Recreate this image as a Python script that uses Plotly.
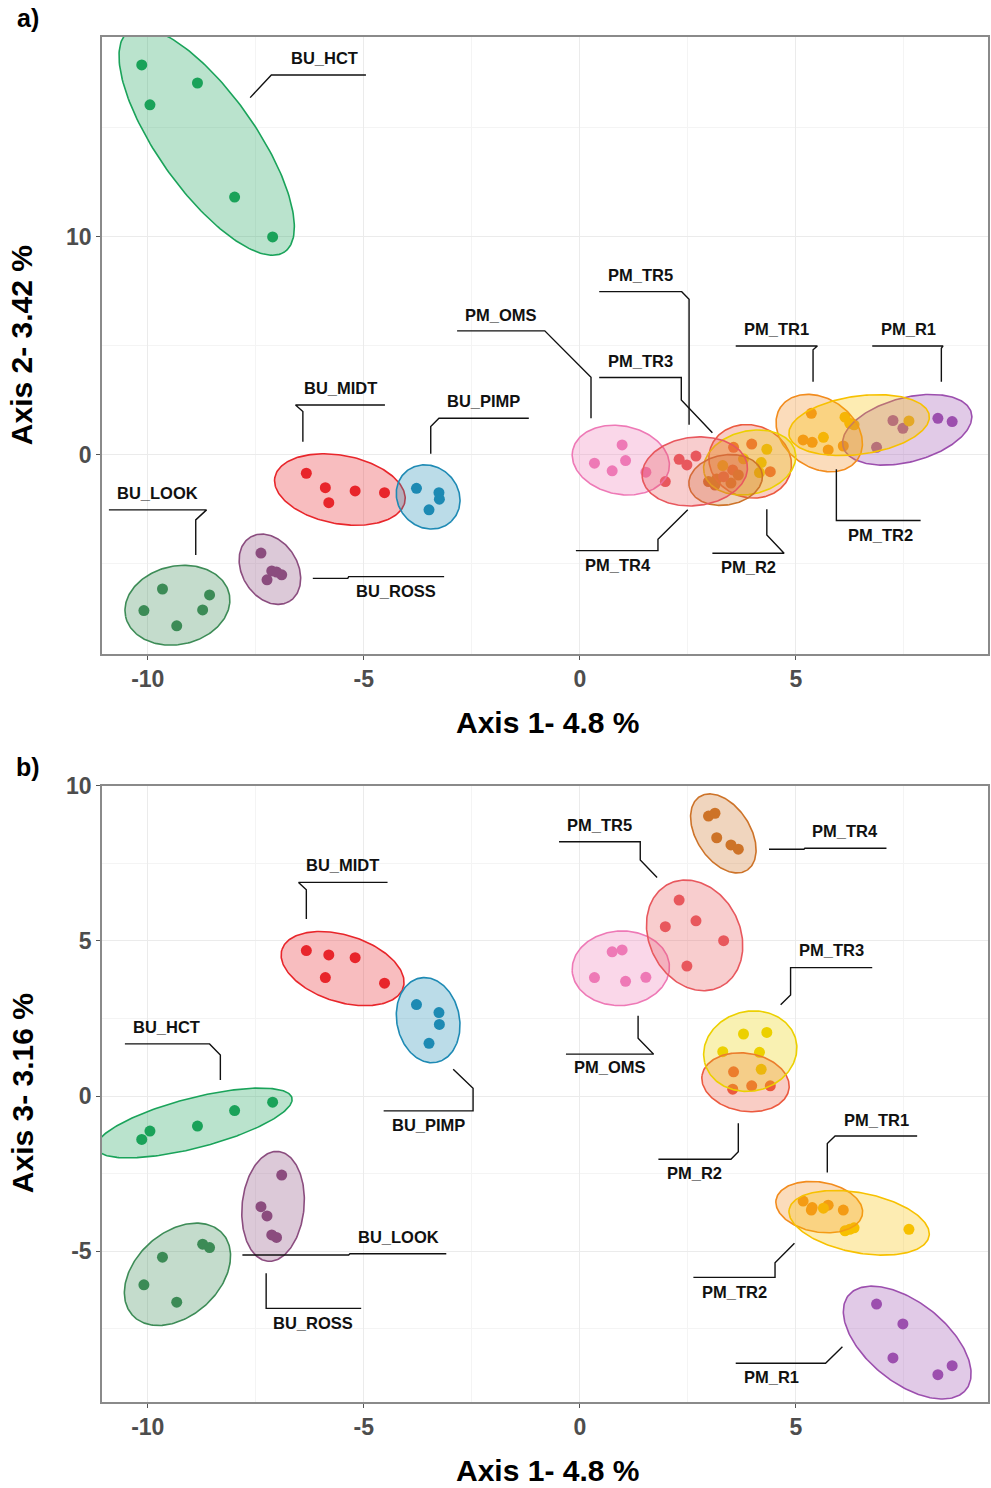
import numpy as np
import plotly.graph_objects as go

# ---------------- data ----------------
GROUPS = ["BU_HCT", "BU_LOOK", "BU_MIDT", "BU_PIMP", "BU_ROSS", "PM_OMS", "PM_R1",
          "PM_R2", "PM_TR1", "PM_TR2", "PM_TR3", "PM_TR4", "PM_TR5"]

AXIS1 = {
    "BU_HCT": [-10.14, -9.95, -8.85, -7.99, -7.11],
    "BU_LOOK": [-10.09, -9.66, -9.33, -8.73, -8.57],
    "BU_MIDT": [-6.33, -5.89, -5.81, -5.20, -4.52],
    "BU_PIMP": [-3.78, -3.26, -3.25, -3.49],
    "BU_ROSS": [-7.38, -7.24, -7.13, -7.02, -6.90],
    "PM_OMS": [0.34, 0.75, 0.98, 1.06, 1.53],
    "PM_R1": [6.87, 7.25, 7.48, 8.29, 8.62],
    "PM_R2": [3.54, 3.56, 3.98, 4.41],
    "PM_TR1": [5.17, 5.36, 5.38, 5.75, 6.10],
    "PM_TR2": [5.64, 6.14, 6.25, 6.35, 7.62],
    "PM_TR3": [3.31, 3.79, 4.16, 4.20, 4.33],
    "PM_TR4": [2.98, 3.13, 3.17, 3.50, 3.67],
    "PM_TR5": [1.98, 2.30, 2.48, 2.69, 3.33],
}
AXIS2 = {
    "BU_HCT": [17.89, 16.06, 17.06, 11.83, 10.00],
    "BU_LOOK": [-7.14, -6.15, -7.84, -7.11, -6.42],
    "BU_MIDT": [-0.84, -1.50, -2.19, -1.65, -1.73],
    "BU_PIMP": [-1.53, -1.73, -2.03, -2.52],
    "BU_ROSS": [-4.50, -5.73, -5.32, -5.37, -5.50],
    "PM_OMS": [-0.38, -0.73, 0.46, -0.26, -0.79],
    "PM_R1": [0.35, 1.58, 1.22, 1.68, 1.53],
    "PM_R2": [-0.69, 0.35, 0.50, -0.77],
    "PM_TR1": [0.69, 1.91, 0.58, 0.23, 0.41],
    "PM_TR2": [0.81, 1.73, 1.45, 1.38, 1.56],
    "PM_TR3": [-0.49, -0.18, -0.81, -0.35, 0.26],
    "PM_TR4": [-1.22, -1.38, -1.10, -1.29, -0.92],
    "PM_TR5": [-1.22, -0.20, -0.46, -0.05, -1.00],
}
AXIS3 = {
    "BU_HCT": [-1.40, -1.13, -0.97, -0.47, -0.20],
    "BU_LOOK": [-6.09, -5.20, -6.65, -4.78, -4.89],
    "BU_MIDT": [4.69, 3.82, 4.55, 4.46, 3.64],
    "BU_PIMP": [2.95, 2.69, 2.31, 1.70],
    "BU_ROSS": [-3.57, -3.87, -4.48, -4.56, -2.55],
    "PM_OMS": [3.82, 4.65, 4.71, 3.70, 3.83],
    "PM_R1": [-6.71, -8.45, -7.35, -8.99, -8.70],
    "PM_R2": [0.22, 0.78, 0.33, 0.33],
    "PM_TR1": [-3.39, -3.68, -3.60, -3.52, -3.68],
    "PM_TR2": [-3.62, -4.35, -4.30, -4.25, -4.30],
    "PM_TR3": [1.43, 2.00, 1.41, 0.86, 2.05],
    "PM_TR4": [9.03, 9.12, 8.33, 8.10, 7.96],
    "PM_TR5": [5.46, 6.32, 4.19, 5.65, 5.01],
}

X_TICKS = [-10, -5, 0, 5]
Y2_TICKS = [0, 10]
Y3_TICKS = [-5, 0, 5, 10]

X_TITLE = "Axis 1- 4.8 %"
Y2_TITLE = "Axis 2- 3.42 %"
Y3_TITLE = "Axis 3- 3.16 %"

# ---------------- styles ----------------
COLORS = {
    "BU_HCT": "#1aa35a", "BU_LOOK": "#3d8c57", "BU_MIDT": "#e8262b",
    "BU_PIMP": "#1e8ab4", "BU_ROSS": "#8b4d7f", "PM_OMS": "#ee79b6",
    "PM_R1": "#9c4fae", "PM_R2": "#ec5a40", "PM_TR1": "#f28c1e",
    "PM_TR2": "#f7c100", "PM_TR3": "#ecd000", "PM_TR4": "#cd7329",
    "PM_TR5": "#e8585e",
}

# label layout: (text, text x, text y, leader xs, leader ys) in data units
LABELS_A = [
    ("BU_HCT", -5.91, 18.21, [-4.95, -7.14, -7.63], [17.43, 17.43, 16.39]),
    ("BU_MIDT", -5.54, 3.07, [-4.51, -6.58, -6.41, -6.41], [2.29, 2.29, 1.99, 0.61]),
    ("BU_PIMP", -2.22, 2.48, [-1.18, -3.26, -3.45, -3.45], [1.68, 1.68, 1.30, 0.05]),
    ("BU_LOOK", -9.77, -1.74, [-10.90, -8.64, -8.89, -8.89], [-2.52, -2.52, -2.98, -4.59]),
    ("BU_ROSS", -4.25, -6.24, [-6.18, -5.37, -5.35, -3.14], [-5.66, -5.66, -5.58, -5.58]),
    ("PM_OMS", -1.82, 6.42, [-2.84, -0.81, 0.26, 0.26], [5.69, 5.69, 3.56, 1.68]),
    ("PM_TR5", 1.41, 8.26, [0.45, 2.36, 2.53, 2.53], [7.49, 7.49, 7.14, 1.38]),
    ("PM_TR3", 1.41, 4.31, [0.45, 2.35, 2.35, 3.07], [3.55, 3.55, 2.52, 1.02]),
    ("PM_TR1", 4.55, 5.78, [3.61, 5.50, 5.40, 5.40], [5.00, 5.00, 4.82, 3.36]),
    ("PM_R1", 7.60, 5.78, [6.77, 8.41, 8.37, 8.37], [5.00, 5.00, 4.89, 3.36]),
    ("PM_TR2", 6.95, -3.67, [7.89, 5.94, 5.94], [-3.01, -3.01, -0.66]),
    ("PM_R2", 3.90, -5.14, [3.07, 4.73, 4.33, 4.33], [-4.51, -4.51, -3.67, -2.49]),
    ("PM_TR4", 0.88, -5.05, [-0.09, 1.81, 1.81, 2.50], [-4.39, -4.39, -3.87, -2.52]),
]
LABELS_B = [
    ("BU_MIDT", -5.50, 7.45, [-4.45, -6.51, -6.33, -6.33], [6.89, 6.89, 6.65, 5.71]),
    ("BU_HCT", -9.56, 2.23, [-10.53, -8.57, -8.32, -8.32], [1.68, 1.68, 1.32, 0.52]),
    ("BU_PIMP", -3.51, -0.94, [-4.54, -2.47, -2.47, -2.93], [-0.48, -0.48, 0.25, 0.86]),
    ("BU_LOOK", -4.20, -4.55, [-7.81, -5.35, -5.32, -3.09], [-5.13, -5.13, -5.09, -5.09]),
    ("BU_ROSS", -6.17, -7.32, [-7.26, -7.26, -5.06], [-5.72, -6.85, -6.85]),
    ("PM_TR5", 0.45, 8.74, [-0.48, 1.40, 1.40, 1.79], [8.20, 8.20, 7.61, 7.05]),
    ("PM_TR4", 6.14, 8.56, [4.38, 5.19, 5.21, 7.10], [7.96, 7.96, 7.99, 7.99]),
    ("PM_TR3", 5.83, 4.71, [6.77, 4.88, 4.88, 4.65], [4.14, 4.14, 3.26, 2.94]),
    ("PM_OMS", 0.71, 0.93, [-0.32, 1.71, 1.35, 1.35], [1.35, 1.35, 1.86, 2.59]),
    ("PM_R2", 2.66, -2.49, [1.82, 3.50, 3.67, 3.67], [-2.04, -2.04, -1.80, -0.88]),
    ("PM_TR1", 6.87, -0.77, [7.81, 5.91, 5.73, 5.73], [-1.29, -1.29, -1.53, -2.47]),
    ("PM_TR2", 3.58, -6.31, [2.63, 4.52, 4.52, 4.97], [-5.85, -5.85, -5.38, -4.75]),
    ("PM_R1", 4.44, -9.07, [3.61, 5.69, 6.08], [-8.62, -8.62, -8.09]),
]

# figure geometry in screen pixels (body margin removed in the page)
W, H = 991, 1488
ML, MT = 102, 37
MR = W - 990
MB = H - 1402
XR = [-11.06, 9.45]
Y2R = [-9.13, 19.17]
Y3R = [-9.87, 10.0]
DOM_A = [0.548, 1.0]
DOM_B = [0.0, 0.4513]
EXPAND_PX = 19.0
MIN_HALF_AXIS_PX = 6.0

plot_w = W - ML - MR
plot_h = H - MT - MB

FONT = "Liberation Sans, Arial, sans-serif"


def hex_rgba(h, a):
    h = h.lstrip("#")
    return "rgba(%d,%d,%d,%.3f)" % (int(h[0:2], 16), int(h[2:4], 16), int(h[4:6], 16), a)


def mvee(P, tol=1e-5):
    N, d = P.shape
    Q = np.vstack([P.T, np.ones(N)])
    u = np.ones(N) / N
    err = 1.0
    it = 0
    while err > tol and it < 20000:
        X = Q @ np.diag(u) @ Q.T
        M = np.einsum("ij,ji->i", Q.T @ np.linalg.inv(X), Q)
        j = int(np.argmax(M))
        step = (M[j] - d - 1.0) / ((d + 1.0) * (M[j] - 1.0))
        nu = (1 - step) * u
        nu[j] += step
        err = np.linalg.norm(nu - u)
        u = nu
        it += 1
    c = P.T @ u
    A = np.linalg.inv(P.T @ np.diag(u) @ P - np.outer(c, c)) / d
    return c, A


def ellipse_path(xs, ys, sx, sy, expand):
    P = np.column_stack([np.asarray(xs) * sx, np.asarray(ys) * sy])
    c, A = mvee(P)
    vals, vecs = np.linalg.eigh(A)
    axes = np.maximum(1.0 / np.sqrt(vals), MIN_HALF_AXIS_PX) + expand
    t = np.linspace(0, 2 * np.pi, 200)
    pts = c[:, None] + vecs @ np.vstack([axes[0] * np.cos(t), axes[1] * np.sin(t)])
    return pts[0] / sx, pts[1] / sy


fig = go.Figure()

panels = [
    ("x", "y", AXIS2, Y2R, DOM_A, LABELS_A),
    ("x2", "y2", AXIS3, Y3R, DOM_B, LABELS_B),
]

for xa, ya, YD, yr, dom, labels in panels:
    sx = plot_w / (XR[1] - XR[0])
    sy = plot_h * (dom[1] - dom[0]) / (yr[1] - yr[0])
    # points first
    for g in GROUPS:
        fig.add_trace(go.Scatter(
            x=AXIS1[g], y=YD[g], mode="markers", xaxis=xa, yaxis=ya,
            marker=dict(size=11, color=COLORS[g], line=dict(width=0)),
            name=g, showlegend=False, hoverinfo="skip"))
    # ellipses on top
    for g in GROUPS:
        ex, ey = ellipse_path(AXIS1[g], YD[g], sx, sy, EXPAND_PX)
        fig.add_trace(go.Scatter(
            x=ex, y=ey, mode="lines", fill="toself", xaxis=xa, yaxis=ya,
            fillcolor=hex_rgba(COLORS[g], 0.30),
            line=dict(color=COLORS[g], width=1.6),
            showlegend=False, hoverinfo="skip"))
    # leader lines & labels
    for text, tx, ty, lx, ly in labels:
        fig.add_trace(go.Scatter(
            x=lx, y=ly, mode="lines", xaxis=xa, yaxis=ya,
            line=dict(color="#111111", width=1.4),
            showlegend=False, hoverinfo="skip"))
        fig.add_annotation(x=tx, y=ty, xref=xa, yref=ya, text="<b>%s</b>" % text,
                           showarrow=False, font=dict(size=16.5, color="#111111", family=FONT),
                           xanchor="center", yanchor="middle")

axis_common = dict(
    showline=True, linecolor="#8a8a8a", linewidth=1.5, mirror=True,
    ticks="outside", ticklen=4, tickcolor="#555555", tickwidth=1,
    showgrid=True, gridcolor="#ebebeb", gridwidth=1, zeroline=False,
    tickfont=dict(size=23, color="#4d4d4d", family=FONT),
)
minor_x = dict(dtick=2.5, tick0=0, showgrid=True, gridcolor="#f4f4f4", gridwidth=1, ticks="")

fig.update_layout(
    width=W, height=H, plot_bgcolor="white", paper_bgcolor="white",
    margin=dict(l=ML, r=MR, t=MT, b=MB, pad=0),
    xaxis=dict(range=XR, domain=[0, 1], anchor="y", tickvals=X_TICKS,
               ticktext=["<b>%d</b>" % v for v in X_TICKS], minor=minor_x, **axis_common),
    yaxis=dict(range=Y2R, domain=DOM_A, anchor="x", tickvals=Y2_TICKS,
               ticktext=["<b>%d</b>" % v for v in Y2_TICKS],
               minor=dict(dtick=5, tick0=0, showgrid=True, gridcolor="#f4f4f4", ticks=""),
               **axis_common),
    xaxis2=dict(range=XR, domain=[0, 1], anchor="y2", tickvals=X_TICKS,
                ticktext=["<b>%d</b>" % v for v in X_TICKS], minor=minor_x, **axis_common),
    yaxis2=dict(range=Y3R, domain=DOM_B, anchor="x2", tickvals=Y3_TICKS,
                ticktext=["<b>%d</b>" % v for v in Y3_TICKS],
                minor=dict(dtick=2.5, tick0=0, showgrid=True, gridcolor="#f4f4f4", ticks=""),
                **axis_common),
)

title_font = dict(size=30, color="#000000", family=FONT)


def px_to_paper(px, py):
    # px, py: screen pixels of the page
    return (px - ML) / plot_w, (H - MB - py) / plot_h


for txt, px, py, ang in [(X_TITLE, 549, 722, 0), (X_TITLE, 549, 1470, 0),
                         (Y2_TITLE, 22, 345, -90), (Y3_TITLE, 22, 1093, -90)]:
    xp, yp = px_to_paper(px, py)
    fig.add_annotation(x=xp, y=yp, xref="paper", yref="paper", text="<b>%s</b>" % txt,
                       showarrow=False, textangle=ang, font=title_font,
                       xanchor="center", yanchor="middle")

for txt, px, py in [("a)", 28, 18), ("b)", 28, 767)]:
    xp, yp = px_to_paper(px, py)
    fig.add_annotation(x=xp, y=yp, xref="paper", yref="paper", text="<b>%s</b>" % txt,
                       showarrow=False, font=dict(size=25, color="#000000", family=FONT),
                       xanchor="center", yanchor="middle")

fig.write_html("out.html",
               config={"displayModeBar": False},
               post_script="document.documentElement.style.margin='0';"
                           "document.body.style.margin='0';"
                           "document.body.style.overflow='hidden';")
